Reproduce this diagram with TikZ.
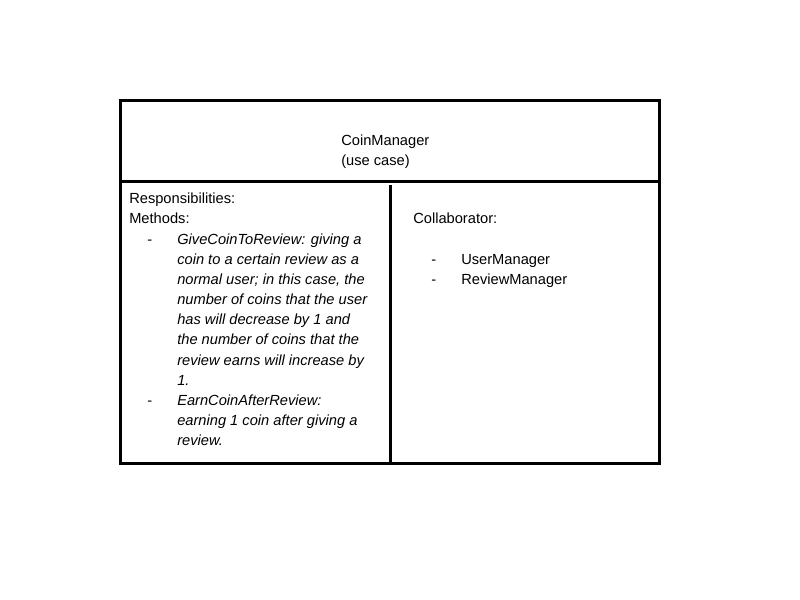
\documentclass[tikz,border=0pt]{standalone}
\usepackage{fontspec}
\setmainfont{Liberation Sans}
\begin{document}
\begin{tikzpicture}[x=0.75pt,y=-0.75pt,
  frame/.style={line width=2.25pt,line cap=rect},
  txt/.style={anchor=base west,inner sep=0pt,font=\fontsize{11}{13}\selectfont},
  itxt/.style={txt,font=\fontsize{11}{13}\selectfont\itshape}]
\useasboundingbox (0,0) rectangle (800,600);
\draw[frame] (120,100) rectangle (659,463);
\coordinate (hl) at (120,181.5);
\coordinate (hr) at (659,181.5);
\draw[frame] (hl) -- (hr);
\coordinate (vt) at (390,185);
\coordinate (vb) at (390,463);
\draw[frame,line cap=butt] (vt) -- (vb);
\node[txt] (title) at (341,145) {CoinManager};
\node[txt] (sub) at (341,165) {(use case)};
\node[txt] (resp) at (129,203.5) {Responsibilities:};
\node[txt] (meth) at (129,223.5) {Methods:};
\node[txt] (d1) at (147,244) {-};
\node[txt] (d2) at (147,405) {-};
\foreach \i/\y/\t in {1/244/{GiveCoinToReview: giving a},
  2/264/{coin to a certain review as a},
  3/284/{normal user; in this case, the},
  4/304/{number of coins that the user},
  5/324/{has will decrease by 1 and},
  6/344.5/{the number of coins that the},
  7/365/{review earns will increase by},
  8/385/{1.},
  9/405/{EarnCoinAfterReview:},
  10/425/{earning 1 coin after giving a},
  11/445.5/{review.}}
  \node[itxt] (m\i) at (177,\y) {\t};
\node[txt] (coll) at (413,223) {Collaborator:};
\node[txt] (d3) at (431,264) {-};
\node[txt] (d4) at (431,284) {-};
\node[txt] (c1) at (461,264) {UserManager};
\node[txt] (c2) at (461,284) {ReviewManager};
\end{tikzpicture}
\end{document}
